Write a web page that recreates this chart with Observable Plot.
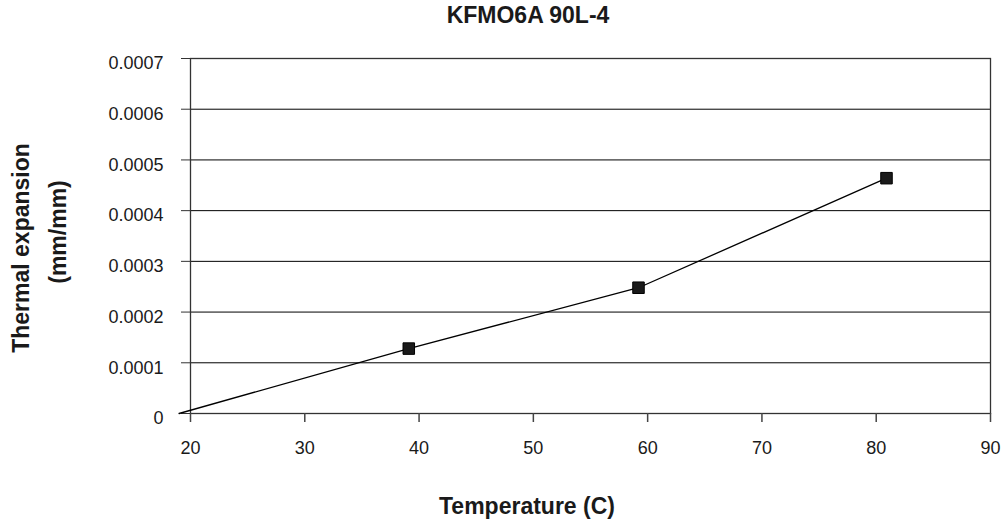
<!DOCTYPE html>
<html>
<head>
<meta charset="utf-8">
<script src="https://cdn.jsdelivr.net/npm/d3@7"></script>
<script src="https://cdn.jsdelivr.net/npm/@observablehq/plot@0.6"></script>
<style>
  body { margin: 0; background: #fff; font-family: "Liberation Sans", Arial, sans-serif; }
  #wrap { position: relative; width: 1001px; height: 524px; }
  .lbl { position: absolute; font-weight: bold; color: #1a1a1a; white-space: nowrap; font-size: 23px; line-height: 1; }
</style>
</head>
<body>
<div id="wrap">
  <div id="chart"></div>
  <div class="lbl" style="left:528px; top:15px; transform:translate(-50%,-50%);">KFMO6A 90L-4</div>
  <div class="lbl" style="left:527px; top:506px; transform:translate(-50%,-50%);">Temperature (C)</div>
  <div class="lbl" style="left:21px; top:248px; transform:translate(-50%,-50%) rotate(-90deg);">Thermal expansion</div>
  <div class="lbl" style="left:58px; top:232px; transform:translate(-50%,-50%) rotate(-90deg);">(mm/mm)</div>
</div>
<script>
const temperature = [19, 39.1, 59.2, 80.9];
const expansion = [0, 0.000128, 0.000248, 0.000464];
const markerTemps = [39.1, 59.2, 80.9];
const markerExpansion = [0.000128, 0.000248, 0.000464];
const xTicks = [20, 30, 40, 50, 60, 70, 80, 90];
const yTicks = [0, 0.0001, 0.0002, 0.0003, 0.0004, 0.0005, 0.0006, 0.0007];
const yTickLabels = ["0", "0.0001", "0.0002", "0.0003", "0.0004", "0.0005", "0.0006", "0.0007"];

const lineData = temperature.map((t, i) => ({t, e: expansion[i]}));
const markerData = markerTemps.map((t, i) => ({t, e: markerExpansion[i]}));
const yLabelData = yTicks.map((v, i) => ({v, label: yTickLabels[i]}));

const chart = Plot.plot({
  width: 1001,
  height: 524,
  marginLeft: 190,
  marginRight: 11,
  marginTop: 58,
  marginBottom: 111,
  style: {fontFamily: "'Liberation Sans', Arial, sans-serif", fontSize: "18px", color: "#1a1a1a", background: "#fff"},
  x: {domain: [20, 90], ticks: xTicks, tickFormat: d => String(d), label: null},
  y: {domain: [0, 0.0007], ticks: yTicks, label: null},
  marks: [
    Plot.ruleY(yTicks, {stroke: "#000", strokeWidth: 1}),
    Plot.frame({stroke: "#333", strokeWidth: 1.3}),
    Plot.axisX({ticks: xTicks, tickSize: 9, tickPadding: 19, tickFormat: d => String(d), label: null, stroke: "#444", strokeWidth: 1.5}),
    Plot.axisY({ticks: yTicks, tickSize: 9, tickFormat: () => "", label: null, stroke: "#333"}),
    Plot.text(yLabelData, {y: "v", text: "label", frameAnchor: "left", textAnchor: "end", dx: -27, dy: 5, fill: "#1a1a1a", fontSize: 18}),
    Plot.line(lineData, {x: "t", y: "e", stroke: "#000", strokeWidth: 1.3}),
    Plot.dot(markerData, {x: "t", y: "e", symbol: "square", r: 6.5, fill: "#1a1a1a", stroke: "#000", strokeWidth: 1})
  ]
});
document.getElementById("chart").appendChild(chart);
</script>
</body>
</html>
